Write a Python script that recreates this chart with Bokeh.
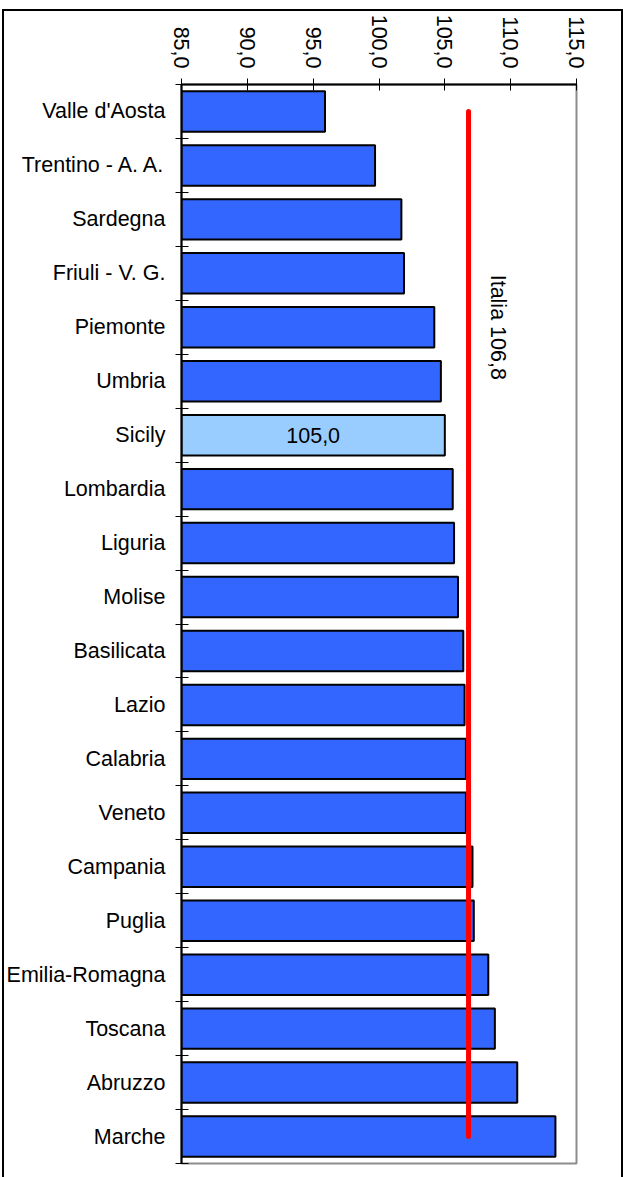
import math
from bokeh.plotting import figure
from bokeh.models import FixedTicker, Range1d, ColumnDataSource, Label
from bokeh.core.properties import value
from bokeh.embed import file_html
from bokeh.resources import INLINE

regions = ["Valle d'Aosta", "Trentino - A. A.", "Sardegna", "Friuli - V. G.", "Piemonte",
           "Umbria", "Sicily", "Lombardia", "Liguria", "Molise", "Basilicata", "Lazio",
           "Calabria", "Veneto", "Campania", "Puglia", "Emilia-Romagna", "Toscana",
           "Abruzzo", "Marche"]
values = [95.9, 99.7, 101.7, 101.9, 104.2, 104.7, 105.0, 105.6, 105.7, 106.0, 106.4, 106.5,
          106.6, 106.6, 107.1, 107.2, 108.3, 108.8, 110.5, 113.4]
highlight = "Sicily"
italia_value = 106.8
italia_label = "Italia 106,8"
x_ticks = [85, 90, 95, 100, 105, 110, 115]
x_tick_labels = ["85,0", "90,0", "95,0", "100,0", "105,0", "110,0", "115,0"]

FONT = "Liberation Sans"
FS = "21.5px"

n = len(regions)
ypos = [n - 1 - i for i in range(n)]
colors = ["#99CCFF" if r == highlight else "#3366FF" for r in regions]
src = ColumnDataSource(dict(y=ypos, value=values, color=colors, region=regions))

p = figure(width=623, height=1177, x_range=Range1d(x_ticks[0], x_ticks[-1]),
           y_range=Range1d(-0.5, n - 0.5), x_axis_location="above",
           output_backend="svg", toolbar_location=None,
           min_border_left=181, min_border_right=47, min_border_top=84, min_border_bottom=14)
p.grid.visible = False
p.outline_line_color = "#8c8c8c"
p.outline_line_width = 2
p.background_fill_color = "white"
p.border_fill_color = None
# outer chart border drawn behind the (transparent) border area
p.styles = {
    "background": ("linear-gradient(#000,#000) 2px 9px / 2px 1300px no-repeat, "
                   "linear-gradient(#000,#000) 2px 9px / 621px 2px no-repeat, "
                   "linear-gradient(#000,#000) 621px 9px / 2px 1300px no-repeat, white"),
}

p.hbar(y="y", left=x_ticks[0], right="value", height=0.75, fill_color="color",
       line_color="black", line_width=2, source=src)

# Italy average line
p.line(x=[italia_value, italia_value], y=[ypos[0], ypos[-1]], line_color="#FF0000",
       line_width=5, line_cap="round")

# value label on highlighted bar
hi = regions.index(highlight)
p.text(x=[(x_ticks[0] + values[hi]) / 2], y=[ypos[hi]],
       text=[f"{values[hi]:.1f}".replace(".", ",")], text_font=value(FONT),
       text_font_size=FS, text_align="center", text_baseline="middle", text_color="black")

p.add_layout(Label(x=109.07, y=ypos[4], text=italia_label, angle=-math.pi / 2,
                   text_font=FONT, text_font_size=FS, text_align="center",
                   text_baseline="middle", text_color="black"))

# top axis
xa = p.xaxis[0]
xa.ticker = FixedTicker(ticks=x_ticks)
xa.major_label_overrides = {t: l for t, l in zip(x_ticks, x_tick_labels)}
xa.major_label_orientation = -math.pi / 2
xa.major_tick_in = 6
xa.major_tick_out = 6
xa.major_tick_line_color = "black"
xa.minor_tick_line_color = None
xa.axis_line_color = "black"
xa.axis_line_width = 2
xa.major_label_standoff = 10
xa.major_label_text_font = FONT
xa.major_label_text_font_size = FS
xa.major_label_text_font_style = "normal"
xa.major_label_text_color = "black"

# left axis
ya = p.yaxis[0]
ya.ticker = FixedTicker(ticks=ypos, minor_ticks=[k - 0.5 for k in range(n + 1)])
ya.major_label_overrides = {y: r for y, r in zip(ypos, regions)}
ya.major_tick_line_color = None
ya.major_tick_in = 0
ya.major_tick_out = 0
ya.minor_tick_line_color = "black"
ya.minor_tick_in = 7
ya.minor_tick_out = 6
ya.axis_line_color = "black"
ya.axis_line_width = 2
ya.major_label_standoff = 10
ya.major_label_text_font = FONT
ya.major_label_text_font_size = FS
ya.major_label_text_font_style = "normal"
ya.major_label_text_color = "black"

open("out.html", "w").write(file_html(p, INLINE))
